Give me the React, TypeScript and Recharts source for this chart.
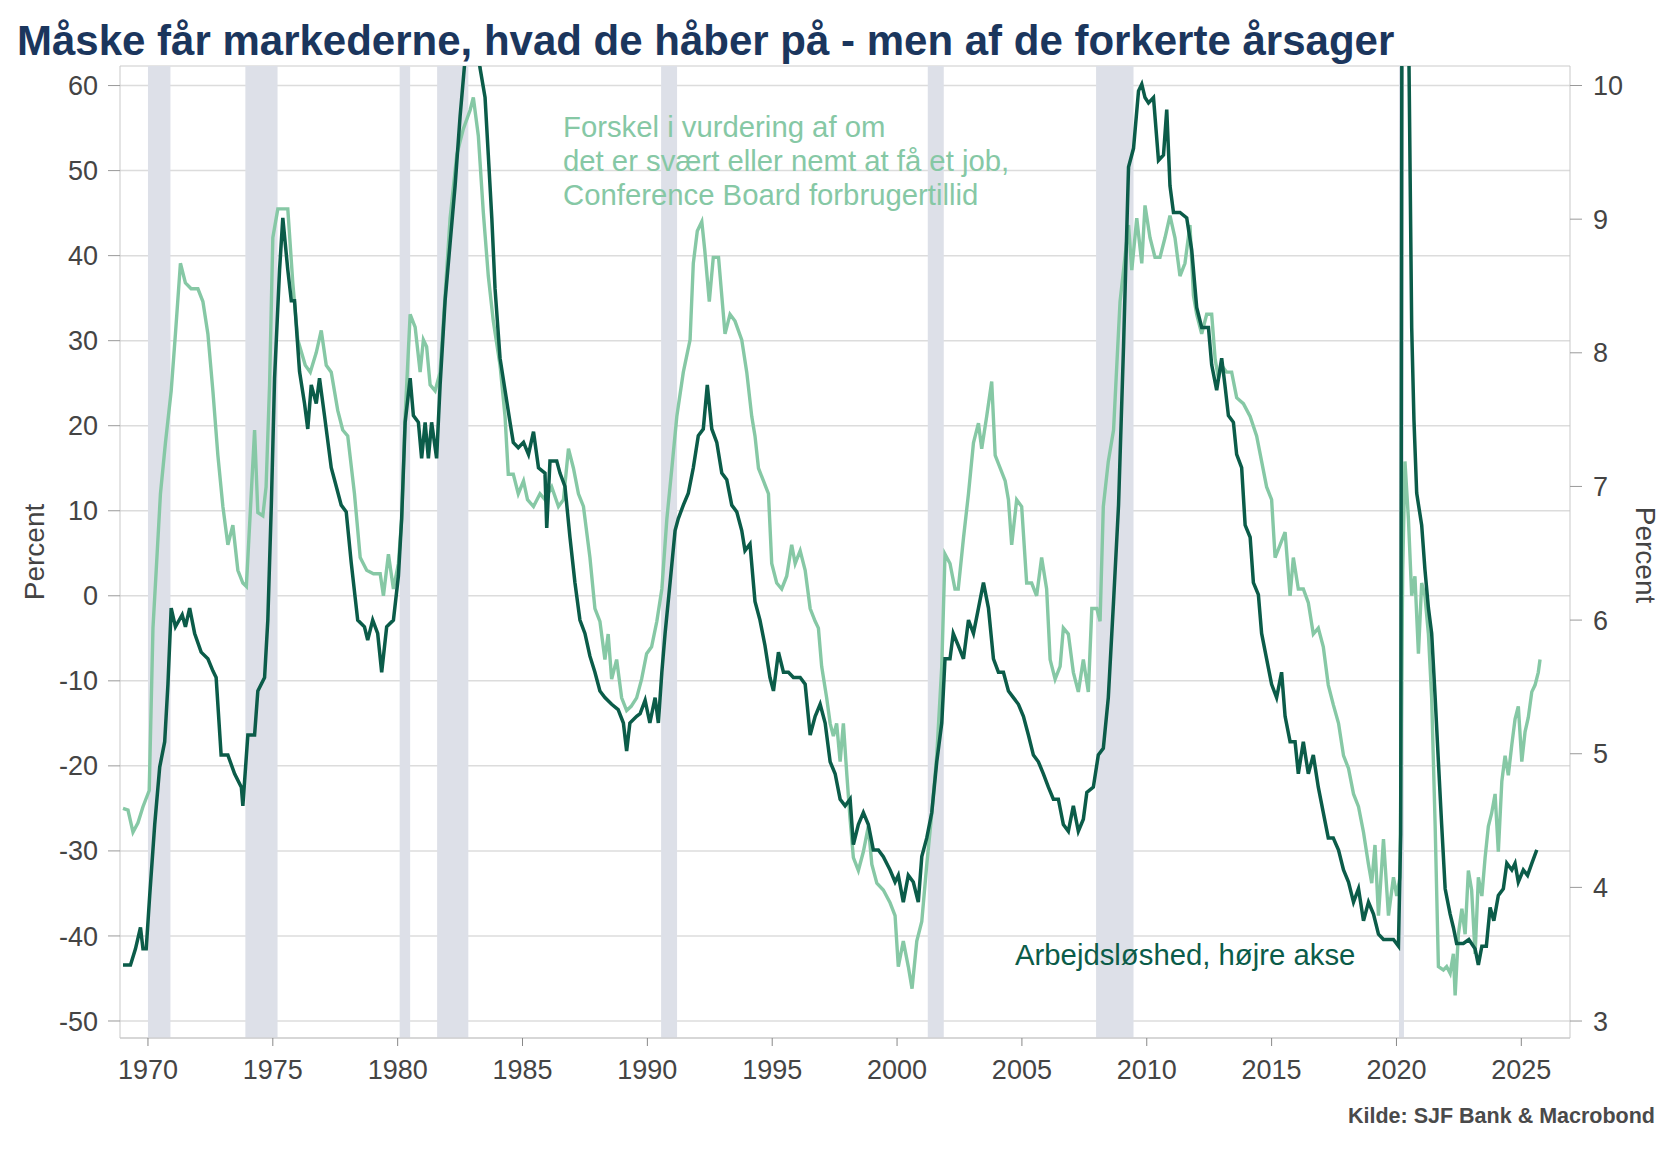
import { CartesianGrid, Line, LineChart, ReferenceArea, XAxis, YAxis } from "recharts";

// Forskel "svært" minus "nemt" at få job (venstre akse) — [år, værdi]
const gapPoints: [number, number][] = [
  [1969.0, -25.0], [1969.2, -25.2], [1969.4, -27.8], [1969.6, -26.7], [1969.8, -24.8], [1970.05, -22.9],
  [1970.2, -3.8], [1970.33, 3.0], [1970.5, 12.0], [1970.7, 18.0], [1970.93, 24.1], [1971.1, 30.8],
  [1971.3, 39.1], [1971.5, 36.8], [1971.73, 36.1], [1972.0, 36.1], [1972.2, 34.6], [1972.4, 30.8],
  [1972.6, 24.1], [1972.8, 16.5], [1973.0, 10.5], [1973.2, 6.0], [1973.4, 8.3], [1973.6, 3.0],
  [1973.8, 1.5], [1973.94, 1.1], [1974.07, 8.3], [1974.27, 19.5], [1974.4, 9.8], [1974.6, 9.4],
  [1974.73, 12.8], [1974.87, 24.8], [1975.0, 42.1], [1975.2, 45.5], [1975.6, 45.5], [1975.8, 36.8],
  [1976.0, 30.1], [1976.3, 27.1], [1976.5, 26.3], [1976.74, 28.6], [1976.94, 31.2], [1977.14, 27.1],
  [1977.34, 26.3], [1977.6, 21.8], [1977.8, 19.5], [1978.0, 18.8], [1978.27, 12.0], [1978.5, 4.5],
  [1978.76, 3.0], [1979.03, 2.6], [1979.3, 2.6], [1979.43, 0.0], [1979.63, 4.9], [1979.83, 0.8],
  [1980.03, 3.8], [1980.16, 9.0], [1980.3, 21.1], [1980.5, 33.1], [1980.7, 31.6], [1980.9, 26.3],
  [1981.03, 30.1], [1981.16, 29.3], [1981.3, 24.8], [1981.5, 24.1], [1981.7, 26.3], [1981.9, 35.3],
  [1982.1, 44.4], [1982.37, 51.9], [1982.63, 54.9], [1982.9, 57.1], [1983.03, 58.6], [1983.23, 54.1],
  [1983.43, 45.1], [1983.63, 37.6], [1983.83, 32.3], [1984.1, 27.1], [1984.3, 21.1], [1984.43, 14.3],
  [1984.63, 14.3], [1984.83, 12.0], [1985.04, 13.5], [1985.2, 11.3], [1985.44, 10.5], [1985.7, 12.0],
  [1985.9, 11.3], [1986.17, 12.8], [1986.44, 10.5], [1986.64, 11.3], [1986.84, 17.3], [1987.04, 15.0],
  [1987.24, 12.0], [1987.44, 10.5], [1987.7, 4.5], [1987.9, -1.5], [1988.1, -3.0], [1988.3, -7.5],
  [1988.43, -4.5], [1988.57, -9.8], [1988.77, -7.5], [1988.97, -12.0], [1989.17, -13.5], [1989.35, -13.0],
  [1989.57, -12.0], [1989.77, -9.8], [1989.97, -6.8], [1990.17, -6.0], [1990.38, -3.0], [1990.58, 0.8],
  [1990.78, 9.0], [1990.98, 15.0], [1991.18, 21.1], [1991.44, 26.3], [1991.71, 30.1], [1991.84, 39.1],
  [1992.0, 42.9], [1992.18, 44.0], [1992.3, 40.6], [1992.48, 34.6], [1992.64, 39.8], [1992.85, 39.8],
  [1993.11, 30.8], [1993.31, 33.1], [1993.51, 32.3], [1993.78, 30.1], [1993.98, 26.3], [1994.18, 21.1],
  [1994.31, 18.8], [1994.45, 15.0], [1994.65, 13.5], [1994.85, 12.0], [1994.98, 3.8], [1995.18, 1.5],
  [1995.38, 0.8], [1995.58, 2.3], [1995.78, 6.0], [1995.92, 3.8], [1996.12, 5.3], [1996.32, 3.0],
  [1996.52, -1.5], [1996.72, -3.0], [1996.85, -3.8], [1996.98, -8.3], [1997.18, -12.0], [1997.32, -15.0],
  [1997.45, -16.5], [1997.58, -15.0], [1997.72, -19.5], [1997.85, -15.0], [1997.99, -21.1], [1998.12, -26.3],
  [1998.25, -30.8], [1998.45, -32.3], [1998.65, -30.1], [1998.85, -27.1], [1998.99, -31.6], [1999.19, -33.8],
  [1999.45, -34.6], [1999.72, -36.1], [1999.92, -37.6], [2000.05, -43.6], [2000.25, -40.6], [2000.45, -43.6],
  [2000.6, -46.2], [2000.79, -40.6], [2000.99, -38.3], [2001.19, -31.6], [2001.39, -25.6], [2001.59, -18.8],
  [2001.79, -8.3], [2001.92, 4.9], [2002.12, 3.8], [2002.32, 0.8], [2002.45, 0.8], [2002.66, 6.8],
  [2002.86, 12.0], [2003.06, 18.0], [2003.26, 20.3], [2003.39, 17.3], [2003.59, 21.1], [2003.79, 25.2],
  [2003.93, 16.5], [2004.13, 15.0], [2004.33, 13.5], [2004.46, 11.3], [2004.59, 6.0], [2004.79, 11.3],
  [2004.99, 10.5], [2005.19, 1.5], [2005.39, 1.5], [2005.59, 0.0], [2005.79, 4.5], [2005.99, 0.8],
  [2006.13, -7.5], [2006.33, -9.8], [2006.53, -8.3], [2006.66, -3.8], [2006.86, -4.5], [2007.06, -9.0],
  [2007.26, -11.3], [2007.46, -7.5], [2007.66, -11.3], [2007.8, -1.5], [2008.0, -1.5], [2008.13, -3.0],
  [2008.26, 10.5], [2008.46, 15.8], [2008.67, 19.5], [2008.8, 27.1], [2008.93, 34.6], [2009.07, 38.3],
  [2009.27, 43.6], [2009.4, 38.3], [2009.6, 44.4], [2009.8, 39.1], [2009.93, 45.9], [2010.13, 42.1],
  [2010.33, 39.8], [2010.53, 39.8], [2010.73, 42.1], [2010.93, 44.7], [2011.13, 42.1], [2011.33, 37.6],
  [2011.53, 39.1], [2011.73, 43.6], [2011.87, 35.3], [2012.0, 33.1], [2012.2, 30.8], [2012.4, 33.1],
  [2012.6, 33.1], [2012.74, 27.8], [2012.87, 25.6], [2013.0, 27.1], [2013.2, 26.3], [2013.4, 26.3],
  [2013.6, 23.3], [2013.87, 22.6], [2014.14, 21.1], [2014.4, 18.8], [2014.6, 15.8], [2014.8, 12.8],
  [2015.0, 11.3], [2015.14, 4.5], [2015.34, 6.0], [2015.54, 7.5], [2015.74, 0.0], [2015.87, 4.5],
  [2016.07, 0.8], [2016.27, 0.8], [2016.47, -0.8], [2016.67, -4.5], [2016.87, -3.8], [2017.07, -6.0],
  [2017.27, -10.5], [2017.47, -12.8], [2017.68, -15.0], [2017.88, -18.8], [2018.08, -20.3], [2018.28, -23.3],
  [2018.48, -24.8], [2018.68, -27.8], [2018.88, -31.6], [2019.01, -33.8], [2019.14, -29.3], [2019.28, -37.6],
  [2019.48, -28.6], [2019.68, -37.6], [2019.88, -33.1], [2020.01, -35.3], [2020.14, -33.1], [2020.25, 3.0],
  [2020.34, 15.8], [2020.48, 9.0], [2020.61, 0.0], [2020.74, 2.3], [2020.88, -6.8], [2021.01, 1.5],
  [2021.14, 0.0], [2021.28, -4.5], [2021.41, -12.0], [2021.55, -27.1], [2021.68, -43.6], [2021.88, -44.0],
  [2022.01, -43.6], [2022.15, -44.4], [2022.28, -42.1], [2022.35, -47.0], [2022.48, -39.8], [2022.62, -36.8],
  [2022.75, -39.8], [2022.88, -32.3], [2023.01, -34.6], [2023.15, -42.1], [2023.28, -33.1], [2023.42, -35.3],
  [2023.55, -30.8], [2023.68, -27.1], [2023.81, -25.6], [2023.95, -23.3], [2024.08, -30.1], [2024.22, -21.8],
  [2024.35, -18.8], [2024.48, -21.1], [2024.62, -17.5], [2024.75, -14.5], [2024.88, -13.0], [2025.02, -19.5],
  [2025.15, -16.0], [2025.28, -14.3], [2025.42, -11.3], [2025.55, -10.5], [2025.68, -9.0], [2025.75, -7.5],
];

// Arbejdsløshed, pct. (højre akse) — [år, værdi]
const unempPoints: [number, number][] = [
  [1969.0, 3.42], [1969.3, 3.42], [1969.5, 3.54], [1969.7, 3.7], [1969.8, 3.54], [1969.93, 3.54],
  [1970.07, 3.94], [1970.27, 4.47], [1970.47, 4.9], [1970.67, 5.09], [1970.8, 5.52], [1970.93, 6.09],
  [1971.1, 5.95], [1971.37, 6.04], [1971.5, 5.95], [1971.67, 6.09], [1971.87, 5.9], [1972.13, 5.76],
  [1972.4, 5.71], [1972.6, 5.62], [1972.73, 5.57], [1972.93, 4.99], [1973.2, 4.99], [1973.47, 4.85],
  [1973.74, 4.75], [1973.8, 4.61], [1974.0, 5.14], [1974.27, 5.14], [1974.4, 5.47], [1974.67, 5.57],
  [1974.8, 6.0], [1974.94, 6.86], [1975.07, 7.81], [1975.27, 8.62], [1975.4, 9.01], [1975.6, 8.62],
  [1975.74, 8.39], [1975.87, 8.39], [1976.07, 7.86], [1976.27, 7.62], [1976.4, 7.43], [1976.54, 7.76],
  [1976.74, 7.62], [1976.87, 7.81], [1977.07, 7.53], [1977.34, 7.14], [1977.47, 7.05], [1977.74, 6.86],
  [1977.94, 6.81], [1978.14, 6.43], [1978.4, 6.0], [1978.67, 5.95], [1978.8, 5.85], [1979.0, 6.0],
  [1979.2, 5.9], [1979.36, 5.61], [1979.56, 5.95], [1979.83, 6.0], [1980.03, 6.33], [1980.16, 6.76],
  [1980.3, 7.48], [1980.5, 7.81], [1980.63, 7.53], [1980.83, 7.48], [1980.96, 7.21], [1981.1, 7.48],
  [1981.23, 7.21], [1981.36, 7.48], [1981.56, 7.21], [1981.7, 7.76], [1981.9, 8.39], [1982.1, 8.82],
  [1982.3, 9.25], [1982.5, 9.77], [1982.7, 10.2], [1982.9, 10.8], [1983.1, 10.4], [1983.3, 10.13],
  [1983.5, 9.91], [1983.63, 9.48], [1983.77, 9.01], [1983.9, 8.48], [1984.1, 7.96], [1984.3, 7.72],
  [1984.5, 7.48], [1984.63, 7.33], [1984.83, 7.29], [1985.04, 7.33], [1985.24, 7.24], [1985.44, 7.41],
  [1985.64, 7.14], [1985.9, 7.1], [1985.97, 6.69], [1986.1, 7.19], [1986.37, 7.19], [1986.5, 7.1],
  [1986.7, 7.0], [1986.9, 6.62], [1987.1, 6.28], [1987.3, 6.0], [1987.5, 5.9], [1987.7, 5.73],
  [1987.9, 5.61], [1988.1, 5.47], [1988.3, 5.42], [1988.57, 5.37], [1988.83, 5.33], [1989.04, 5.23],
  [1989.17, 5.02], [1989.3, 5.23], [1989.57, 5.28], [1989.71, 5.3], [1989.91, 5.4], [1990.1, 5.23],
  [1990.31, 5.42], [1990.44, 5.23], [1990.58, 5.61], [1990.71, 5.9], [1990.91, 6.28], [1991.11, 6.67],
  [1991.24, 6.76], [1991.44, 6.86], [1991.64, 6.95], [1991.84, 7.14], [1992.04, 7.38], [1992.24, 7.43],
  [1992.4, 7.76], [1992.58, 7.43], [1992.78, 7.33], [1992.98, 7.1], [1993.18, 7.05], [1993.38, 6.86],
  [1993.58, 6.81], [1993.78, 6.67], [1993.91, 6.52], [1994.11, 6.57], [1994.31, 6.14], [1994.51, 6.0],
  [1994.71, 5.81], [1994.91, 5.57], [1995.05, 5.47], [1995.25, 5.76], [1995.45, 5.61], [1995.65, 5.61],
  [1995.85, 5.57], [1996.12, 5.57], [1996.32, 5.52], [1996.52, 5.14], [1996.72, 5.28], [1996.92, 5.37],
  [1997.12, 5.23], [1997.32, 4.94], [1997.52, 4.85], [1997.72, 4.66], [1997.92, 4.61], [1998.12, 4.66],
  [1998.25, 4.32], [1998.45, 4.47], [1998.65, 4.56], [1998.85, 4.47], [1999.05, 4.28], [1999.25, 4.28],
  [1999.45, 4.23], [1999.72, 4.13], [1999.92, 4.04], [2000.05, 4.09], [2000.25, 3.89], [2000.45, 4.09],
  [2000.65, 4.04], [2000.85, 3.89], [2000.99, 4.23], [2001.19, 4.37], [2001.39, 4.56], [2001.59, 4.94],
  [2001.79, 5.23], [2001.92, 5.71], [2002.12, 5.71], [2002.25, 5.9], [2002.45, 5.81], [2002.66, 5.71],
  [2002.86, 6.0], [2003.06, 5.9], [2003.26, 6.09], [2003.46, 6.28], [2003.66, 6.09], [2003.86, 5.71],
  [2004.06, 5.61], [2004.26, 5.61], [2004.46, 5.47], [2004.66, 5.42], [2004.86, 5.37], [2005.06, 5.28],
  [2005.26, 5.14], [2005.46, 4.99], [2005.66, 4.94], [2005.86, 4.85], [2006.06, 4.75], [2006.26, 4.66],
  [2006.46, 4.66], [2006.66, 4.47], [2006.86, 4.42], [2007.06, 4.61], [2007.26, 4.42], [2007.46, 4.51],
  [2007.6, 4.71], [2007.86, 4.75], [2008.06, 4.99], [2008.26, 5.04], [2008.46, 5.42], [2008.67, 6.14],
  [2008.87, 6.86], [2009.07, 8.05], [2009.27, 9.39], [2009.47, 9.53], [2009.67, 9.96], [2009.8, 10.01],
  [2009.93, 9.91], [2010.07, 9.87], [2010.27, 9.91], [2010.47, 9.44], [2010.67, 9.48], [2010.8, 9.82],
  [2010.93, 9.25], [2011.07, 9.05], [2011.33, 9.05], [2011.6, 9.01], [2011.8, 8.77], [2012.0, 8.34],
  [2012.2, 8.19], [2012.47, 8.19], [2012.6, 7.91], [2012.8, 7.72], [2013.0, 7.96], [2013.13, 7.76],
  [2013.27, 7.53], [2013.47, 7.48], [2013.6, 7.24], [2013.8, 7.14], [2013.94, 6.71], [2014.14, 6.62],
  [2014.27, 6.28], [2014.47, 6.19], [2014.6, 5.9], [2014.8, 5.71], [2015.0, 5.52], [2015.2, 5.42],
  [2015.4, 5.61], [2015.54, 5.28], [2015.74, 5.09], [2015.94, 5.09], [2016.07, 4.85], [2016.27, 5.09],
  [2016.47, 4.85], [2016.67, 4.99], [2016.87, 4.75], [2017.07, 4.56], [2017.27, 4.37], [2017.47, 4.37],
  [2017.68, 4.28], [2017.88, 4.13], [2018.08, 4.04], [2018.28, 3.89], [2018.48, 3.99], [2018.68, 3.75],
  [2018.88, 3.89], [2019.08, 3.8], [2019.28, 3.65], [2019.48, 3.61], [2019.68, 3.61], [2019.88, 3.61],
  [2020.08, 3.56], [2020.17, 4.4], [2020.25, 14.7], [2020.33, 13.2], [2020.42, 11.0], [2020.5, 10.2],
  [2020.61, 8.19], [2020.7, 7.5], [2020.81, 6.95], [2021.01, 6.71], [2021.14, 6.38], [2021.28, 6.09],
  [2021.41, 5.9], [2021.55, 5.42], [2021.68, 4.94], [2021.81, 4.47], [2021.95, 3.99], [2022.15, 3.8],
  [2022.28, 3.7], [2022.41, 3.58], [2022.68, 3.58], [2022.9, 3.61], [2023.15, 3.54], [2023.28, 3.42],
  [2023.42, 3.56], [2023.6, 3.56], [2023.75, 3.85], [2023.9, 3.75], [2024.08, 3.94], [2024.28, 3.99],
  [2024.42, 4.18], [2024.62, 4.13], [2024.75, 4.18], [2024.88, 4.04], [2025.08, 4.13], [2025.25, 4.09],
  [2025.42, 4.18], [2025.62, 4.28],
];

// recessioner (start, slut) i årstal
const recessions: [number, number][] = [
  [1970.0, 1970.9], [1973.9, 1975.19], [1980.08, 1980.5], [1981.58, 1982.83],
  [1990.55, 1991.19], [2001.23, 2001.87], [2007.97, 2009.47], [2020.1, 2020.3],
];

const yearTicks = [1970, 1975, 1980, 1985, 1990, 1995, 2000, 2005, 2010, 2015, 2020, 2025];
const leftTicks = [-50, -40, -30, -20, -10, 0, 10, 20, 30, 40, 50, 60];
const rightTicks = [3, 4, 5, 6, 7, 8, 9, 10];

const gapRows = gapPoints.map(([x, v]) => ({ x, v }));
const unempRows = unempPoints.map(([x, v]) => ({ x, v }));

const FONT = '"Liberation Sans", Arial, sans-serif';
const LIGHT = "#86c8a5";
const DARK = "#0b5c49";
const AXIS = "#c9c9c9";
const TICK = { fontSize: 27, fill: "#444", fontFamily: FONT };

export default function App() {
  return (
    <div style={{ position: "absolute", left: 0, top: 0, width: 1680, height: 1155, background: "#fff" }}>
      <LineChart
        width={1680}
        height={1155}
        margin={{ top: 66, right: 20, bottom: 57, left: 20 }}
      >
        {recessions.map(([a, b]) => (
          <ReferenceArea
            key={a}
            yAxisId="left"
            x1={a}
            x2={b}
            fill="#dde0e8"
            fillOpacity={1}
            stroke="none"
          />
        ))}
        <CartesianGrid yAxisId="left" vertical={false} stroke="#dcdcdc" strokeWidth={1.5} />
        <XAxis
          type="number"
          dataKey="x"
          domain={[1968.88, 2026.95]}
          ticks={yearTicks}
          allowDataOverflow
          height={60}
          tickSize={8}
          tickMargin={14}
          axisLine={{ stroke: AXIS }}
          tickLine={{ stroke: "#888" }}
          tick={TICK}
        />
        <YAxis
          yAxisId="left"
          domain={[-52, 62.3]}
          ticks={leftTicks}
          allowDataOverflow
          width={100}
          tickSize={12}
          tickMargin={10}
          axisLine={{ stroke: AXIS }}
          tickLine={{ stroke: "#999" }}
          tick={TICK}
        />
        <YAxis
          yAxisId="right"
          orientation="right"
          domain={[2.873, 10.146]}
          ticks={rightTicks}
          allowDataOverflow
          width={90}
          tickSize={12}
          tickMargin={11}
          axisLine={{ stroke: AXIS }}
          tickLine={{ stroke: "#999" }}
          tick={TICK}
        />
        <Line
          yAxisId="left"
          data={gapRows}
          dataKey="v"
          type="linear"
          stroke={LIGHT}
          strokeWidth={3.4}
          dot={false}
          isAnimationActive={false}
        />
        <Line
          yAxisId="right"
          data={unempRows}
          dataKey="v"
          type="linear"
          stroke={DARK}
          strokeWidth={3.5}
          dot={false}
          isAnimationActive={false}
        />
      </LineChart>
      <svg
        width={1680}
        height={1155}
        style={{ position: "absolute", left: 0, top: 0, pointerEvents: "none" }}
        fontFamily={FONT}
      >
        <text x={17} y={55} fontSize={42} fontWeight="bold" fill="#1b365d">
          Måske får markederne, hvad de håber på - men af de forkerte årsager
        </text>
        <text fontSize={29.3} fill={LIGHT}>
          <tspan x={563} y={137}>Forskel i vurdering af om</tspan>
          <tspan x={563} y={171}>det er svært eller nemt at få et job,</tspan>
          <tspan x={563} y={205}>Conference Board forbrugertillid</tspan>
        </text>
        <text x={1015} y={965} fontSize={29.3} fill={DARK}>
          Arbejdsløshed, højre akse
        </text>
        <text
          transform="translate(34,552) rotate(-90)"
          textAnchor="middle"
          dominantBaseline="central"
          fontSize={28}
          fill="#444"
        >
          Percent
        </text>
        <text
          transform="translate(1645,555) rotate(90)"
          textAnchor="middle"
          dominantBaseline="central"
          fontSize={28}
          fill="#444"
        >
          Percent
        </text>
        <text x={1655} y={1123} textAnchor="end" fontSize={21.5} fontWeight="bold" fill="#4a4a4a">
          Kilde: SJF Bank &amp; Macrobond
        </text>
      </svg>
    </div>
  );
}
